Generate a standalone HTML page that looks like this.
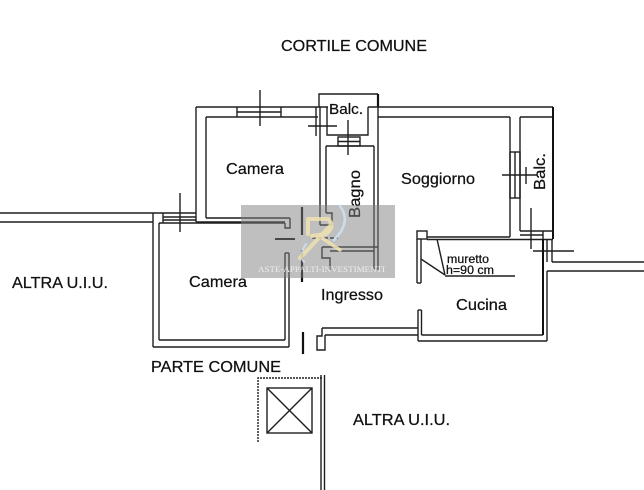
<!DOCTYPE html>
<html><head><meta charset="utf-8">
<style>
html,body{margin:0;padding:0;background:#fff;}
svg{display:block;}
text{font-family:"Liberation Sans",Arial,sans-serif;fill:#111;stroke:#111;stroke-width:0.25;}
</style></head>
<body>
<svg width="644" height="490" viewBox="0 0 644 490" xmlns="http://www.w3.org/2000/svg">
<rect width="644" height="490" fill="#fff"/>
<g fill="none" stroke="#1e1e1e" stroke-width="1.4">
<!-- left neighbour walls -->
<line x1="0" y1="213" x2="196" y2="213"/>
<line x1="0" y1="222" x2="153" y2="222"/>
<!-- Upper camera -->
<line x1="196" y1="107" x2="328" y2="107"/>
<line x1="206" y1="117" x2="318" y2="117"/>
<line x1="237" y1="112" x2="281" y2="112"/>
<line x1="237" y1="107" x2="237" y2="117"/>
<line x1="281" y1="107" x2="281" y2="117"/>
<line x1="260" y1="90" x2="260" y2="126"/>
<line x1="196" y1="107" x2="196" y2="222"/>
<line x1="206" y1="117" x2="206" y2="218"/>
<line x1="320" y1="107" x2="320" y2="225"/>
<line x1="316" y1="107" x2="316" y2="136"/>
<line x1="206" y1="218" x2="290" y2="218"/>
<polyline points="290,218 290,228 285,228 285,223"/>
<line x1="196" y1="222" x2="285" y2="222"/>
<!-- Lower camera -->
<line x1="159" y1="223" x2="285" y2="223"/>
<line x1="163" y1="217" x2="196" y2="217"/>
<line x1="163" y1="220" x2="196" y2="220"/>
<line x1="163" y1="213" x2="163" y2="223"/>
<line x1="180" y1="193" x2="180" y2="232"/>
<line x1="153" y1="213" x2="153" y2="347"/>
<line x1="159" y1="223" x2="159" y2="340"/>
<line x1="159" y1="340" x2="285" y2="340"/>
<line x1="153" y1="347" x2="289" y2="347"/>
<line x1="285" y1="253" x2="285" y2="340"/>
<line x1="289" y1="253" x2="289" y2="347"/>
<line x1="285" y1="253" x2="289" y2="253"/>
<!-- door leaves -->
<line x1="302" y1="207" x2="302" y2="235" stroke-width="2.2" stroke="#111"/>
<line x1="302" y1="250" x2="302" y2="282" stroke-width="2.2" stroke="#111"/>
<line x1="275" y1="239" x2="295" y2="239" stroke-width="2" stroke="#111"/>
<line x1="303" y1="332" x2="303" y2="354" stroke-width="2.2" stroke="#111"/>
<!-- Balc top -->
<polyline points="319,107 319,94 378,94"/>
<line x1="378" y1="94" x2="378" y2="107" stroke-width="2.2" stroke="#111"/>
<polyline points="327,107 327,135 368,135 368,107"/>
<line x1="308" y1="126" x2="337" y2="126"/>
<line x1="348" y1="120" x2="348" y2="155"/>
<!-- Bagno -->
<line x1="326" y1="146" x2="374" y2="146"/>
<rect x="338" y="137" width="22" height="9"/>
<line x1="338" y1="141.5" x2="360" y2="141.5"/>
<line x1="326" y1="146" x2="326" y2="213"/>
<polyline points="326,213 332,213 332,225 320,225"/>
<line x1="312" y1="238" x2="338" y2="238" stroke-dasharray="4,2"/>
<polyline points="330,270 330,258 322,258 322,247"/>
<line x1="322" y1="247" x2="378" y2="247"/>
<line x1="330" y1="251" x2="374" y2="251"/>
<line x1="374" y1="146" x2="374" y2="270"/>
<line x1="378" y1="107" x2="378" y2="270"/>
<!-- Soggiorno -->
<line x1="368" y1="107" x2="553" y2="107"/>
<line x1="378" y1="117" x2="510" y2="117"/>
<line x1="520" y1="117" x2="552" y2="117"/>
<line x1="510" y1="117" x2="510" y2="237"/>
<line x1="520" y1="117" x2="520" y2="231"/>
<rect x="510" y="152" width="10" height="46"/>
<line x1="515" y1="152" x2="515" y2="198"/>
<line x1="502" y1="175" x2="537" y2="175"/>
<line x1="526" y1="167" x2="526" y2="184"/>
<line x1="553" y1="107" x2="553" y2="239" stroke-width="2" stroke="#111"/>
<line x1="520" y1="231" x2="553" y2="231"/>
<line x1="520" y1="235" x2="543" y2="235"/>
<line x1="543" y1="231" x2="543" y2="239"/>
<line x1="427" y1="237" x2="510" y2="237"/>
<line x1="427" y1="239.5" x2="553" y2="239.5"/>
<line x1="531" y1="208" x2="531" y2="249"/>
<line x1="533" y1="251" x2="574" y2="251" stroke-width="1.6"/>
<!-- Cucina -->
<rect x="417" y="231" width="10" height="8"/>
<line x1="417" y1="239" x2="417" y2="283"/>
<line x1="421" y1="239" x2="421" y2="283"/>
<line x1="417" y1="283" x2="421" y2="283"/>
<line x1="418" y1="310" x2="418" y2="341"/>
<line x1="421.5" y1="310" x2="421.5" y2="335"/>
<line x1="418" y1="310" x2="421.5" y2="310"/>
<line x1="421.5" y1="335" x2="543" y2="335"/>
<line x1="418" y1="341" x2="547" y2="341"/>
<line x1="543" y1="239" x2="543" y2="335" stroke-width="2" stroke="#111"/>
<line x1="547" y1="271" x2="547" y2="341"/>
<line x1="547" y1="239" x2="547" y2="262"/>
<line x1="552" y1="239" x2="552" y2="262"/>
<line x1="552" y1="262" x2="644" y2="262"/>
<line x1="547" y1="271" x2="644" y2="271"/>
<line x1="437" y1="239" x2="445" y2="275"/>
<line x1="421" y1="259" x2="445" y2="275"/>
<line x1="445" y1="276" x2="515" y2="276"/>
<!-- Ingresso bottom -->
<line x1="322" y1="328" x2="418" y2="328"/>
<line x1="325" y1="335" x2="418" y2="335"/>
<polyline points="322,328 322,336 317,336 317,350 325,350 325,335"/>
<!-- lower area -->
<polyline points="258,442 258,378 322,378" stroke-dasharray="2,1"/>
<rect x="267" y="388" width="45" height="45"/>
<line x1="267" y1="388" x2="312" y2="433"/>
<line x1="312" y1="388" x2="267" y2="433"/>
<line x1="321" y1="375" x2="321" y2="490"/>
<line x1="324.5" y1="375" x2="324.5" y2="490"/>
</g>
<!-- labels -->
<text x="281" y="51" font-size="16" textLength="146" lengthAdjust="spacingAndGlyphs">CORTILE COMUNE</text>
<text x="226" y="174" font-size="16" textLength="58" lengthAdjust="spacingAndGlyphs">Camera</text>
<text x="329" y="114" font-size="15" textLength="34" lengthAdjust="spacingAndGlyphs">Balc.</text>
<text transform="translate(360,218) rotate(-90)" font-size="16" textLength="48" lengthAdjust="spacingAndGlyphs">Bagno</text>
<text x="401" y="184" font-size="16" textLength="74" lengthAdjust="spacingAndGlyphs">Soggiorno</text>
<text transform="translate(545,190) rotate(-90)" font-size="16" textLength="37" lengthAdjust="spacingAndGlyphs">Balc.</text>
<text x="12" y="288" font-size="16" textLength="96" lengthAdjust="spacingAndGlyphs">ALTRA U.I.U.</text>
<text x="189" y="287" font-size="16" textLength="58" lengthAdjust="spacingAndGlyphs">Camera</text>
<text x="321" y="300" font-size="16" textLength="62" lengthAdjust="spacingAndGlyphs">Ingresso</text>
<text x="447" y="263" font-size="11.5" textLength="42" lengthAdjust="spacingAndGlyphs">muretto</text>
<text x="446" y="274" font-size="11.5" textLength="48" lengthAdjust="spacingAndGlyphs">h=90 cm</text>
<text x="456" y="310" font-size="16" textLength="51" lengthAdjust="spacingAndGlyphs">Cucina</text>
<text x="151" y="372" font-size="16" textLength="130" lengthAdjust="spacingAndGlyphs">PARTE COMUNE</text>
<text x="353" y="425" font-size="16" textLength="97" lengthAdjust="spacingAndGlyphs">ALTRA U.I.U.</text>
<!-- watermark -->
<rect x="241" y="205" width="154" height="73" fill="#808080" opacity="0.5"/>
<g fill="none" stroke-linecap="round" opacity="0.85">
<path d="M340 206 Q352 222 334 240" stroke="#cfe3f5" stroke-width="2.5"/>
<path d="M306 244 Q298 256 304 262" stroke="#cfe3f5" stroke-width="2"/>
<path d="M308 219 L308 234 M308 219 L328 219 Q336 226 326 234 L312 236" stroke="#efe2b0" stroke-width="4"/>
<path d="M330 226 L300 258" stroke="#efe2b0" stroke-width="4"/>
<path d="M322 238 L340 250" stroke="#efe2b0" stroke-width="3.5"/>
</g>
<text x="258" y="272" font-size="8" textLength="127" lengthAdjust="spacingAndGlyphs" style="fill:#eeeeee;stroke:none;font-family:'Liberation Serif',serif;">ASTE-APPALTI-INVESTIMENTI</text>
</svg>
</body></html>
